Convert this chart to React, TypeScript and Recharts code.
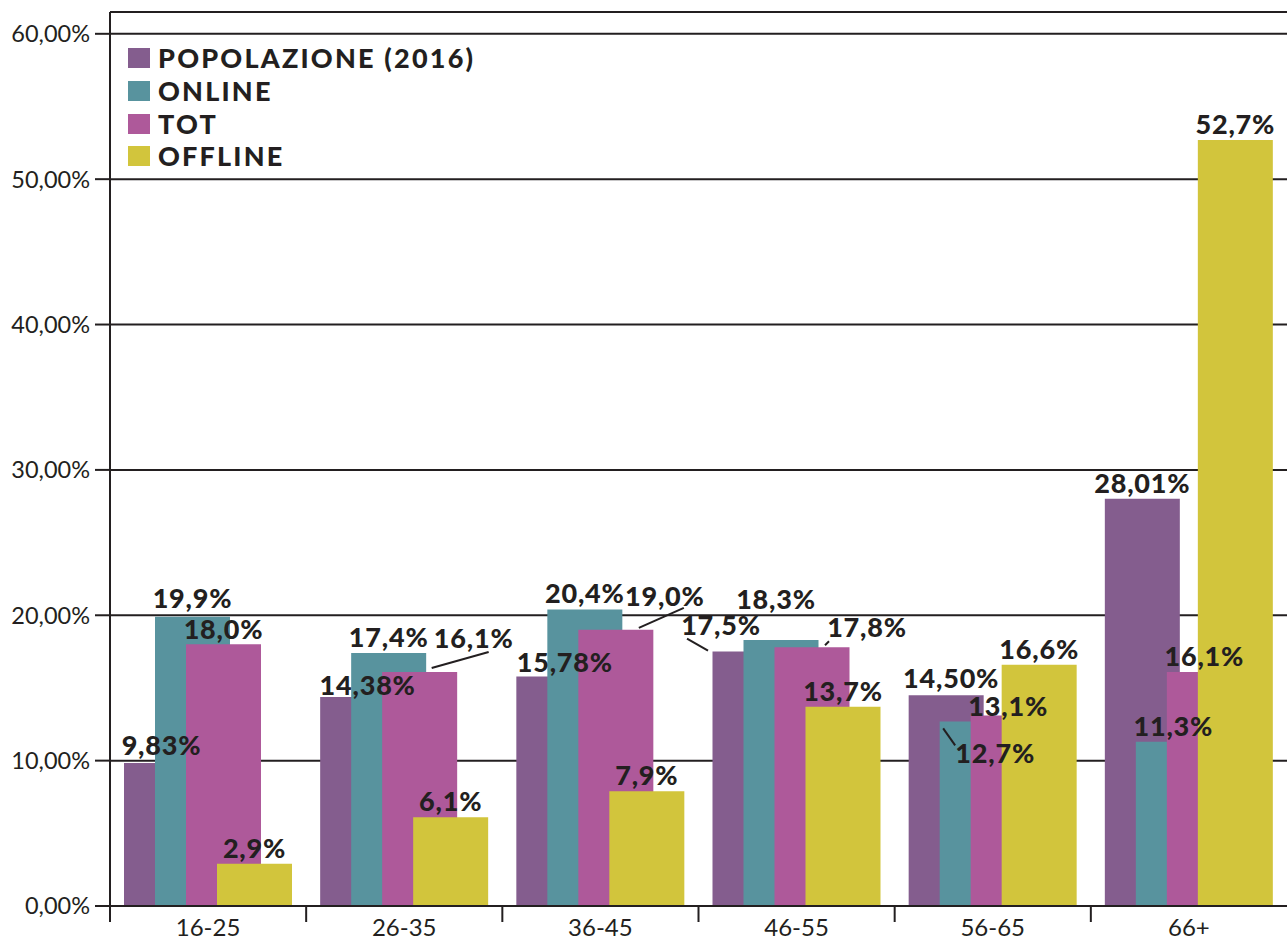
import React from "react";
import { BarChart, Bar, XAxis, YAxis, CartesianGrid, LabelList, Legend } from "recharts";

const categories = ["16-25", "26-35", "36-45", "46-55", "56-65", "66+"];
const popolazione = [9.83, 14.38, 15.78, 17.5, 14.5, 28.01];
const online = [19.9, 17.4, 20.4, 18.3, 12.7, 11.3];
const tot = [18.0, 16.1, 19.0, 17.8, 13.1, 16.1];
const offline = [2.9, 6.1, 7.9, 13.7, 16.6, 52.7];

const popLabels = ["9,83%", "14,38%", "15,78%", "17,5%", "14,50%", "28,01%"];
const onlineLabels = ["19,9%", "17,4%", "20,4%", "18,3%", "12,7%", "11,3%"];
const totLabels = ["18,0%", "16,1%", "19,0%", "17,8%", "13,1%", "16,1%"];
const offlineLabels = ["2,9%", "6,1%", "7,9%", "13,7%", "16,6%", "52,7%"];

const yTicks = [0, 10, 20, 30, 40, 50, 60];

const series = [
  { key: "pop", name: "POPOLAZIONE (2016)", color: "#845D8E", labels: popLabels },
  { key: "online", name: "ONLINE", color: "#58939E", labels: onlineLabels },
  { key: "tot", name: "TOT", color: "#AE599A", labels: totLabels },
  { key: "offline", name: "OFFLINE", color: "#D2C53C", labels: offlineLabels },
];

const data = categories.map((cat, i) => ({
  cat,
  pop: popolazione[i],
  online: online[i],
  tot: tot[i],
  offline: offline[i],
}));

const W = 1287;
const H = 940;
const AXIS_W = 110;
const BAND = (W - AXIS_W) / categories.length;
const INK = "#231F20";
const FONT = "Lato, 'Open Sans', sans-serif";

// hand placed labels in the original (dx, dy) plus leader lines [x1, y1, x2, y2] from bar top centre
const labelNudge: Record<string, { dx: number; dy: number; leader?: number[] }> = {
  "pop-0": { dx: 0, dy: -2 },
  "online-0": { dx: 0, dy: -3 },
  "tot-0": { dx: 0, dy: 1 },
  "pop-1": { dx: 10, dy: 4 },
  "tot-1": { dx: 54, dy: -18, leader: [12, -4, 69, -20] },
  "pop-2": { dx: 11, dy: 1 },
  "tot-2": { dx: 49, dy: -18, leader: [23, -2, 68, -22] },
  "pop-3": { dx: -29, dy: -11, leader: [-63, -13, -42, -1] },
  "online-3": { dx: -5, dy: -25 },
  "tot-3": { dx: 55, dy: -4, leader: [13, -2, 17, -6] },
  "pop-4": { dx: 5, dy: -1 },
  "online-4": { dx: 18, dy: 48, leader: [-34, 7, -22, 24] },
  "tot-4": { dx: 0, dy: 6 },
};

const makeLabel = (key: string, texts: string[]) => (props: any) => {
  const vb = props.viewBox || {};
  const x = props.x ?? vb.x;
  const y = props.y ?? vb.y;
  const width = props.width ?? vb.width;
  const index = props.index;
  const n = labelNudge[`${key}-${index}`] || { dx: 0, dy: 0 };
  const cx = x + width / 2;
  const l = n.leader;
  return (
    <g>
      {l && (
        <line x1={cx + l[0]} y1={y + l[1]} x2={cx + l[2]} y2={y + l[3]} stroke={INK} strokeWidth={2} />
      )}
      <text
        x={cx + n.dx}
        y={y - 6 + n.dy}
        textAnchor="middle"
        fill={INK}
        fontFamily={FONT}
        fontWeight={900}
        fontSize={27}
        letterSpacing={0.8}
      >
        {texts[index]}
      </text>
    </g>
  );
};

const XTick = (props: any) => {
  const { x, y, payload } = props;
  const bx = x - BAND / 2;
  return (
    <g>
      <line x1={bx} x2={bx} y1={y} y2={y + 16} stroke={INK} strokeWidth={2} />
      <text x={x} y={y + 30} textAnchor="middle" fill={INK} fontFamily={FONT} fontSize={24}>
        {payload.value}
      </text>
    </g>
  );
};

const LegendBox = () => (
  <div style={{ fontFamily: FONT }}>
    {series.map((s) => (
      <div key={s.key} style={{ display: "flex", alignItems: "center", height: 32.7 }}>
        <span style={{ width: 22, height: 20, background: s.color, display: "inline-block", marginRight: 8 }} />
        <span style={{ fontSize: 27, fontWeight: 900, color: INK, letterSpacing: 2.2, lineHeight: "20px" }}>
          {s.name}
        </span>
      </div>
    ))}
  </div>
);

const App = () => {
  return (
    <div style={{ position: "absolute", left: 0, top: 0, background: "#fff" }}>
      <BarChart
        width={W}
        height={H}
        data={data}
        margin={{ top: 12, right: 0, bottom: 0, left: 0 }}
        barSize={75}
        barGap={-44}
      >
        <CartesianGrid vertical={false} stroke={INK} strokeWidth={2} />
        <XAxis
          dataKey="cat"
          height={34}
          tickLine={false}
          tickSize={0}
          tickMargin={0}
          axisLine={{ stroke: INK, strokeWidth: 2 }}
          tick={<XTick />}
          interval={0}
        />
        <XAxis xAxisId="lbl" dataKey="cat" hide />
        <YAxis
          width={AXIS_W}
          domain={[0, 61.5]}
          ticks={yTicks}
          tickSize={15}
          tickMargin={5}
          axisLine={{ stroke: INK, strokeWidth: 2 }}
          tickLine={{ stroke: INK, strokeWidth: 2 }}
          tick={{ fill: INK, fontFamily: FONT, fontSize: 23.5 }}
          tickFormatter={(v: number) => `${v.toFixed(2).replace(".", ",")}%`}
        />
        <Legend
          layout="horizontal"
          verticalAlign="middle"
          align="center"
          wrapperStyle={{ left: 128, top: 42, width: "auto" }}
          content={() => <LegendBox />}
        />
        {series.map((s) => (
          <Bar key={s.key} dataKey={s.key} name={s.name} fill={s.color} isAnimationActive={false} />
        ))}
        {series.map((s) => (
          <Bar
            key={`${s.key}-lbl`}
            xAxisId="lbl"
            dataKey={s.key}
            fill="none"
            legendType="none"
            isAnimationActive={false}
          >
            <LabelList dataKey={s.key} content={makeLabel(s.key, s.labels)} />
          </Bar>
        ))}
      </BarChart>
    </div>
  );
};

export default App;
